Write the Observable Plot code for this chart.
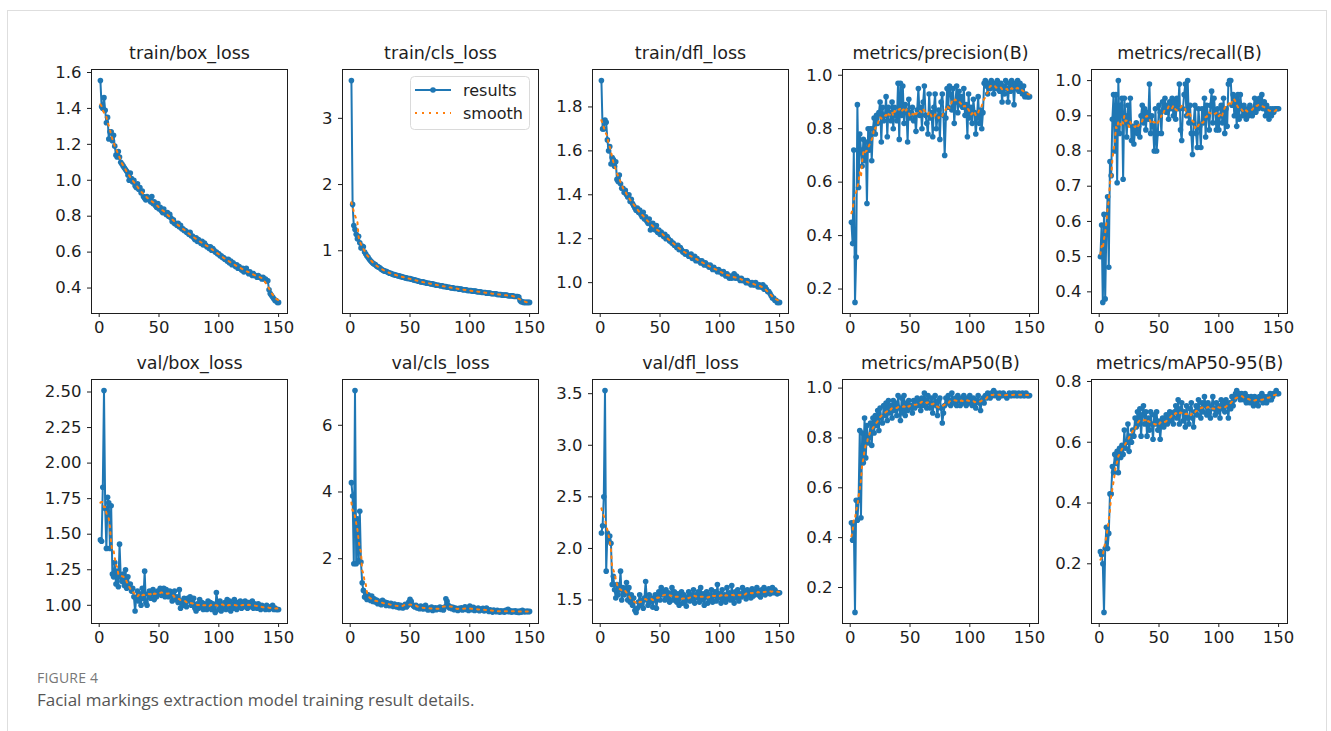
<!DOCTYPE html>
<html><head><meta charset="utf-8">
<script src="https://cdn.jsdelivr.net/npm/d3@7"></script>
<script src="https://cdn.jsdelivr.net/npm/@observablehq/plot@0.6"></script>
<style>
body{margin:0;background:#fff;width:1331px;height:731px;overflow:hidden;position:relative;font-family:'DejaVu Sans',sans-serif;}
.card{position:absolute;left:7px;top:10px;width:1320px;height:740px;border:1px solid #dedede;box-sizing:border-box;}
.panel{position:absolute;}
.cap1{position:absolute;left:37px;top:668px;font:14px 'Open Sans',sans-serif;color:#777;letter-spacing:0.2px}
.cap2{position:absolute;left:37px;top:688px;font:17px 'Open Sans',sans-serif;color:#555}
</style></head><body>
<div class="card"></div>
<div id="panels"></div>
<div class="cap1">FIGURE 4</div>
<div class="cap2">Facial markings extraction model training result details.</div>
<script>
// ---- data (epochs 1..150) ----
const titles = ["train/box_loss","train/cls_loss","train/dfl_loss","metrics/precision(B)","metrics/recall(B)",
                "val/box_loss","val/cls_loss","val/dfl_loss","metrics/mAP50(B)","metrics/mAP50-95(B)"];
const trainBox = [1.555,1.41,1.40,1.46,1.39,1.32,1.35,1.23,1.27,1.27,
1.22,1.25,1.19,1.14,1.13,1.16,1.13,1.10,1.09,1.08,
1.07,1.06,1.05,1.03,1.00,1.04,1.01,0.99,1.00,0.97,
0.96,0.98,0.95,0.96,0.93,0.94,0.91,0.90,0.89,0.91,
0.90,0.89,0.88,0.91,0.87,0.88,0.86,0.85,0.87,0.84,
0.85,0.83,0.82,0.84,0.82,0.81,0.82,0.80,0.81,0.79,
0.77,0.78,0.76,0.76,0.75,0.76,0.74,0.75,0.73,0.73,
0.72,0.72,0.71,0.71,0.70,0.71,0.69,0.69,0.68,0.67,
0.68,0.66,0.67,0.66,0.65,0.66,0.64,0.65,0.64,0.63,
0.63,0.62,0.63,0.61,0.62,0.61,0.60,0.60,0.59,0.59,
0.58,0.58,0.57,0.57,0.56,0.56,0.55,0.56,0.54,0.55,
0.53,0.54,0.53,0.52,0.53,0.51,0.52,0.51,0.50,0.51,
0.49,0.50,0.51,0.49,0.48,0.49,0.48,0.47,0.48,0.47,
0.47,0.46,0.47,0.46,0.46,0.45,0.46,0.45,0.45,0.44,
0.44,0.39,0.37,0.36,0.35,0.34,0.33,0.33,0.32,0.32];
const trainCls = [3.57,1.70,1.38,1.32,1.25,1.18,1.22,1.12,1.04,1.07,
1.06,0.98,0.95,0.92,0.90,0.87,0.85,0.83,0.81,0.80,
0.79,0.77,0.76,0.75,0.74,0.72,0.71,0.70,0.69,0.69,
0.68,0.67,0.66,0.66,0.65,0.64,0.64,0.63,0.63,0.62,
0.62,0.61,0.61,0.60,0.60,0.59,0.59,0.58,0.58,0.58,
0.57,0.57,0.56,0.56,0.55,0.55,0.54,0.54,0.53,0.53,
0.53,0.52,0.52,0.51,0.51,0.51,0.50,0.50,0.50,0.49,
0.49,0.48,0.48,0.48,0.47,0.47,0.47,0.46,0.46,0.46,
0.45,0.45,0.45,0.44,0.44,0.44,0.43,0.43,0.43,0.43,
0.42,0.42,0.42,0.41,0.41,0.41,0.41,0.40,0.40,0.40,
0.40,0.39,0.39,0.39,0.39,0.38,0.38,0.38,0.38,0.37,
0.37,0.37,0.37,0.36,0.36,0.36,0.36,0.35,0.35,0.35,
0.35,0.35,0.34,0.34,0.34,0.34,0.33,0.33,0.33,0.33,
0.33,0.32,0.32,0.32,0.32,0.32,0.31,0.31,0.31,0.31,
0.30,0.25,0.23,0.23,0.22,0.22,0.22,0.22,0.22,0.22];
const trainDfl = [1.92,1.70,1.70,1.74,1.73,1.65,1.60,1.62,1.54,1.57,
1.56,1.53,1.55,1.47,1.46,1.49,1.45,1.43,1.43,1.41,
1.42,1.40,1.39,1.40,1.37,1.38,1.36,1.35,1.34,1.33,
1.34,1.32,1.33,1.31,1.30,1.32,1.29,1.30,1.28,1.27,
1.29,1.24,1.26,1.27,1.25,1.24,1.26,1.23,1.24,1.22,
1.23,1.22,1.21,1.22,1.20,1.21,1.20,1.19,1.19,1.18,
1.18,1.17,1.17,1.16,1.17,1.15,1.16,1.15,1.14,1.14,
1.13,1.14,1.13,1.12,1.12,1.13,1.11,1.11,1.12,1.10,
1.11,1.10,1.10,1.09,1.10,1.09,1.08,1.09,1.08,1.08,
1.07,1.08,1.07,1.06,1.07,1.06,1.06,1.05,1.06,1.05,
1.05,1.04,1.05,1.04,1.03,1.04,1.03,1.02,1.03,1.02,
1.03,1.04,1.02,1.03,1.02,1.02,1.01,1.02,1.01,1.01,
1.01,1.00,1.01,1.00,1.00,0.99,1.00,0.99,0.99,1.00,
0.99,0.98,0.99,0.98,0.98,0.99,0.97,0.98,0.97,0.96,
0.96,0.95,0.94,0.93,0.93,0.92,0.92,0.91,0.91,0.91];
const precision = [0.45,0.37,0.72,0.15,0.32,0.89,0.58,0.78,0.72,0.66,
0.76,0.68,0.75,0.52,0.80,0.72,0.80,0.68,0.80,0.84,
0.78,0.85,0.82,0.86,0.90,0.75,0.88,0.83,0.85,0.92,
0.77,0.88,0.86,0.83,0.90,0.80,0.88,0.85,0.83,0.97,
0.76,0.97,0.85,0.96,0.82,0.89,0.87,0.75,0.91,0.84,
0.86,0.88,0.83,0.85,0.79,0.87,0.95,0.85,0.88,0.80,
0.90,0.96,0.85,0.82,0.78,0.93,0.84,0.86,0.77,0.88,
0.93,0.80,0.84,0.87,0.76,0.90,0.93,0.85,0.70,0.84,
0.95,0.88,0.96,0.93,0.87,0.95,0.82,0.90,0.96,0.86,
0.94,0.89,0.92,0.88,0.95,0.85,0.89,0.77,0.93,0.84,
0.88,0.82,0.91,0.86,0.78,0.84,0.92,0.82,0.87,0.80,
0.86,0.97,0.98,0.96,0.93,0.97,0.95,0.98,0.96,0.93,
0.97,0.95,0.98,0.96,0.94,0.97,0.90,0.96,0.93,0.98,
0.95,0.90,0.97,0.94,0.98,0.96,0.89,0.97,0.95,0.98,
0.94,0.97,0.95,0.93,0.96,0.92,0.93,0.92,0.92,0.92];
const recall = [0.50,0.59,0.37,0.62,0.38,0.58,0.67,0.47,0.77,0.73,
0.89,0.96,0.80,0.96,0.71,1.00,0.85,0.93,0.95,0.72,
0.95,0.90,0.84,0.93,0.88,0.95,0.83,0.87,0.82,0.86,
0.88,0.85,0.87,0.84,0.90,0.93,0.88,0.92,0.86,0.91,
0.89,0.99,0.85,0.90,0.87,0.80,0.92,0.80,0.85,0.93,
0.91,0.85,0.94,0.92,0.95,0.91,0.93,0.89,0.94,0.92,
0.95,0.90,0.94,0.89,0.95,0.92,0.99,0.86,0.83,0.92,
0.96,0.99,0.90,1.00,0.88,0.93,0.85,0.79,0.88,0.93,
0.85,0.81,0.92,0.87,0.81,0.92,0.88,0.95,0.84,0.93,
0.90,0.86,0.93,0.97,0.88,0.95,0.91,0.86,0.92,0.86,
0.90,0.93,0.88,0.95,0.85,0.92,0.87,0.99,1.00,1.00,
0.93,0.96,0.90,0.95,0.87,0.96,0.89,0.96,0.92,0.90,
0.93,0.91,0.89,0.92,0.90,0.93,0.91,0.90,0.92,0.95,
0.91,0.94,0.92,0.95,0.93,0.96,0.92,0.94,0.90,0.93,
0.91,0.89,0.92,0.90,0.92,0.91,0.92,0.92,0.92,0.92];
const valBox = [1.46,1.45,1.83,2.51,1.68,1.40,1.76,1.72,1.40,1.70,
1.22,1.20,1.30,1.15,1.24,1.13,1.43,1.20,1.17,1.22,
1.14,1.25,1.12,1.20,1.13,1.15,1.10,1.12,1.06,0.96,
1.05,1.10,1.03,1.08,1.00,1.12,1.05,1.24,1.02,1.00,
1.08,1.10,1.05,1.08,1.11,1.04,1.09,1.06,1.10,1.08,
1.12,1.07,1.10,1.12,1.06,1.11,1.09,1.06,1.10,1.07,
1.03,1.08,1.10,1.04,1.06,1.02,1.11,0.98,1.03,1.00,
1.05,1.02,0.99,1.05,1.03,1.06,1.00,1.02,1.05,0.98,
0.96,1.01,0.98,1.04,0.99,1.02,0.97,1.01,1.00,0.97,
1.03,0.98,1.02,0.97,1.01,0.99,0.95,1.09,1.02,0.97,
1.03,0.96,1.00,0.98,1.02,0.97,1.04,0.99,1.03,0.96,
1.01,0.98,1.04,1.00,0.97,1.02,0.99,1.03,0.98,1.01,
0.99,1.03,1.00,0.98,1.02,0.99,1.00,1.03,0.98,1.01,
1.00,0.98,1.01,0.99,0.97,1.00,0.98,0.99,0.97,1.00,
0.98,0.97,0.99,0.98,1.00,0.97,0.98,0.97,0.97,0.97];
const valCls = [4.28,3.88,1.85,7.04,1.85,3.20,1.95,3.42,1.90,1.28,
1.05,0.85,0.95,0.78,0.92,0.82,0.75,0.88,0.72,0.80,
0.70,0.76,0.65,0.72,0.68,0.62,0.75,0.66,0.70,0.60,
0.68,0.63,0.59,0.66,0.61,0.57,0.64,0.58,0.55,0.62,
0.53,0.60,0.56,0.52,0.58,0.63,0.55,0.60,0.70,0.78,
0.72,0.62,0.58,0.55,0.60,0.52,0.56,0.50,0.58,0.53,
0.49,0.55,0.60,0.50,0.46,0.52,0.48,0.55,0.45,0.50,
0.53,0.47,0.52,0.49,0.55,0.48,0.52,0.46,0.55,0.80,
0.72,0.60,0.52,0.56,0.50,0.54,0.47,0.52,0.49,0.45,
0.51,0.48,0.53,0.46,0.50,0.56,0.48,0.52,0.45,0.58,
0.50,0.47,0.54,0.45,0.50,0.47,0.52,0.44,0.49,0.46,
0.51,0.43,0.48,0.52,0.45,0.42,0.47,0.44,0.40,0.46,
0.43,0.41,0.45,0.42,0.40,0.44,0.41,0.43,0.40,0.45,
0.42,0.48,0.41,0.44,0.40,0.43,0.41,0.44,0.40,0.42,
0.39,0.43,0.40,0.45,0.41,0.42,0.41,0.43,0.41,0.42];
const valDfl = [2.15,2.22,2.50,3.53,1.78,2.15,2.08,2.12,2.05,1.65,
1.73,1.60,1.52,1.65,1.55,1.60,1.78,1.50,1.62,1.55,
1.58,1.67,1.50,1.62,1.48,1.55,1.45,1.52,1.40,1.38,
1.42,1.48,1.55,1.45,1.50,1.42,1.52,1.68,1.50,1.45,
1.55,1.48,1.52,1.43,1.50,1.55,1.42,1.52,1.58,1.50,
1.62,1.55,1.58,1.50,1.60,1.52,1.57,1.48,1.55,1.62,
1.50,1.58,1.53,1.48,1.56,1.45,1.52,1.58,1.47,1.55,
1.50,1.44,1.53,1.58,1.49,1.55,1.51,1.60,1.47,1.55,
1.52,1.58,1.48,1.62,1.50,1.56,1.45,1.53,1.58,1.47,
1.55,1.50,1.60,1.48,1.54,1.58,1.49,1.65,1.52,1.56,
1.47,1.60,1.50,1.55,1.48,1.62,1.52,1.57,1.50,1.64,
1.53,1.47,1.58,1.52,1.60,1.49,1.56,1.53,1.62,1.55,
1.58,1.51,1.60,1.55,1.57,1.52,1.61,1.54,1.58,1.56,
1.62,1.55,1.59,1.53,1.60,1.57,1.62,1.55,1.59,1.57,
1.61,1.56,1.58,1.62,1.57,1.60,1.58,1.56,1.57,1.57];
const mAP50 = [0.46,0.39,0.46,0.10,0.55,0.47,0.55,0.83,0.48,0.82,
0.70,0.88,0.72,0.85,0.78,0.80,0.86,0.77,0.88,0.82,
0.89,0.85,0.91,0.83,0.92,0.88,0.86,0.93,0.89,0.94,
0.87,0.95,0.90,0.93,0.88,0.95,0.91,0.94,0.89,0.97,
0.92,0.87,0.96,0.90,0.97,0.89,0.94,0.91,0.95,0.92,
0.93,0.90,0.95,0.92,0.94,0.96,0.93,0.95,0.91,0.96,
0.93,0.98,0.95,0.92,0.97,0.94,0.92,0.96,0.90,0.94,
0.97,0.93,0.89,0.95,0.96,0.92,0.86,0.90,0.93,0.96,
0.94,0.97,0.95,0.93,0.98,0.95,0.94,0.96,0.93,0.97,
0.95,0.93,0.96,0.94,0.97,0.95,0.93,0.96,0.94,0.97,
0.95,0.93,0.96,0.94,0.92,0.95,0.97,0.94,0.91,0.95,
0.96,0.94,0.97,0.96,0.98,0.97,0.96,0.98,0.97,0.99,
0.97,0.98,0.97,0.96,0.98,0.97,0.97,0.98,0.97,0.97,
0.96,0.97,0.98,0.97,0.97,0.98,0.97,0.98,0.97,0.97,
0.98,0.97,0.97,0.98,0.97,0.97,0.98,0.97,0.97,0.97];
const mAP5095 = [0.24,0.23,0.20,0.04,0.25,0.32,0.25,0.30,0.43,0.43,
0.52,0.50,0.56,0.53,0.57,0.50,0.58,0.55,0.59,0.56,
0.64,0.58,0.60,0.66,0.57,0.62,0.60,0.64,0.62,0.68,
0.65,0.70,0.66,0.71,0.62,0.69,0.72,0.66,0.70,0.62,
0.68,0.64,0.70,0.66,0.61,0.69,0.66,0.70,0.64,0.67,
0.61,0.66,0.68,0.65,0.67,0.69,0.66,0.68,0.70,0.67,
0.69,0.66,0.70,0.72,0.68,0.74,0.66,0.71,0.73,0.67,
0.70,0.65,0.72,0.68,0.66,0.71,0.73,0.68,0.65,0.70,
0.72,0.69,0.74,0.71,0.68,0.73,0.70,0.75,0.72,0.69,
0.73,0.70,0.68,0.72,0.75,0.71,0.69,0.73,0.70,0.72,
0.68,0.74,0.71,0.73,0.70,0.74,0.72,0.68,0.73,0.71,
0.75,0.72,0.74,0.76,0.77,0.75,0.76,0.74,0.76,0.75,
0.74,0.76,0.73,0.75,0.74,0.73,0.75,0.74,0.72,0.75,
0.73,0.74,0.72,0.75,0.74,0.76,0.73,0.75,0.74,0.73,
0.75,0.74,0.76,0.74,0.75,0.76,0.76,0.77,0.76,0.76];

const yTicks = [[0.4,0.6,0.8,1.0,1.2,1.4,1.6],[1,2,3],[1.0,1.2,1.4,1.6,1.8],[0.2,0.4,0.6,0.8,1.0],[0.4,0.5,0.6,0.7,0.8,0.9,1.0],
                [1.00,1.25,1.50,1.75,2.00,2.25,2.50],[2,4,6],[1.5,2.0,2.5,3.0,3.5],[0.2,0.4,0.6,0.8,1.0],[0.2,0.4,0.6,0.8]];
const yFormats = [".1f","d",".1f",".1f",".1f",".2f","d",".1f",".1f",".1f"];
const xTicks = [0,50,100,150];
const legendLabels = ["results","smooth"];

const seriesList = [trainBox,trainCls,trainDfl,precision,recall,valBox,valCls,valDfl,mAP50,mAP5095];

// ---- layout ----
const frameLefts = [91,342,592,842,1091];
const frameTops = [69,379];
const FW = 196, FH = 244;
const ML = 60, MR = 12, MT = 36, MB = 36;
const BLUE = "#1f77b4", ORANGE = "#ff7f0e", INK = "#1e1e1e";
const FONT = "'DejaVu Sans', sans-serif";

const host = document.getElementById("panels");
seriesList.forEach((vals, i) => {
  const data = vals.map((v, j) => ({epoch: j + 1, value: v}));
  const [lo, hi] = d3.extent(vals);
  const pad = (hi - lo) * 0.05;
  const xlo = 1, xhi = vals.length, xpad = (xhi - xlo) * 0.05;
  const col = i % 5, row = Math.floor(i / 5);
  const chart = Plot.plot({
    width: ML + FW + MR, height: MT + FH + MB,
    marginLeft: ML, marginRight: MR, marginTop: MT, marginBottom: MB,
    style: {fontFamily: FONT, fontSize: "16px", color: INK, background: "transparent", overflow: "visible"},
    x: {domain: [xlo - xpad, xhi + xpad]},
    y: {domain: [lo - pad, hi + pad]},
    marks: [
      Plot.axisX({ticks: xTicks, tickSize: 4, tickPadding: 4, fontSize: 16.5, fontFamily: FONT, fill: INK, stroke: INK, label: null}),
      Plot.axisY({ticks: yTicks[i], tickFormat: d3.format(yFormats[i]), tickSize: 4, tickPadding: 6, fontSize: 16.5, fontFamily: FONT, fill: INK, stroke: INK, label: null}),
      Plot.line(data, {x: "epoch", y: "value", stroke: BLUE, strokeWidth: 2}),
      Plot.dot(data, {x: "epoch", y: "value", r: 2.8, fill: BLUE, stroke: "none"}),
      Plot.line(data, Plot.windowY({k: 11, reduce: "mean", anchor: "middle", strict: false},
        {x: "epoch", y: "value", stroke: ORANGE, strokeWidth: 2, strokeDasharray: "2,5"})),
      Plot.frame({stroke: INK, strokeWidth: 1}),
      Plot.text([titles[i]], {text: d => d, frameAnchor: "top", lineAnchor: "middle", dy: -16, fontSize: 17.5, fontFamily: FONT, fill: INK})
    ]
  });
  chart.classList.add("panel");
  chart.style.left = (frameLefts[col] - ML) + "px";
  chart.style.top = (frameTops[row] - MT) + "px";
  host.appendChild(chart);
});

// ---- legend (inside train/cls_loss) ----
const lg = d3.select("body").append("svg")
  .attr("width", 122).attr("height", 56)
  .style("position", "absolute").style("left", "410px").style("top", "76px")
  .style("font-family", FONT).style("font-size", "16px");
lg.append("rect").attr("x", 0.5).attr("y", 0.5).attr("width", 119).attr("height", 53).attr("rx", 4)
  .attr("fill", "rgba(255,255,255,0.85)").attr("stroke", "#dadada");
lg.append("line").attr("x1", 5).attr("x2", 41).attr("y1", 14).attr("y2", 14).attr("stroke", BLUE).attr("stroke-width", 2);
lg.append("circle").attr("cx", 23).attr("cy", 14).attr("r", 2.8).attr("fill", BLUE);
lg.append("line").attr("x1", 5).attr("x2", 41).attr("y1", 37).attr("y2", 37).attr("stroke", ORANGE).attr("stroke-width", 2).attr("stroke-dasharray", "2,5");
lg.selectAll("text.l").data(legendLabels).join("text")
  .attr("x", 53).attr("y", (d, k) => 14 + k * 23).attr("dy", "0.35em").attr("fill", INK).text(d => d);
</script>
</body></html>
